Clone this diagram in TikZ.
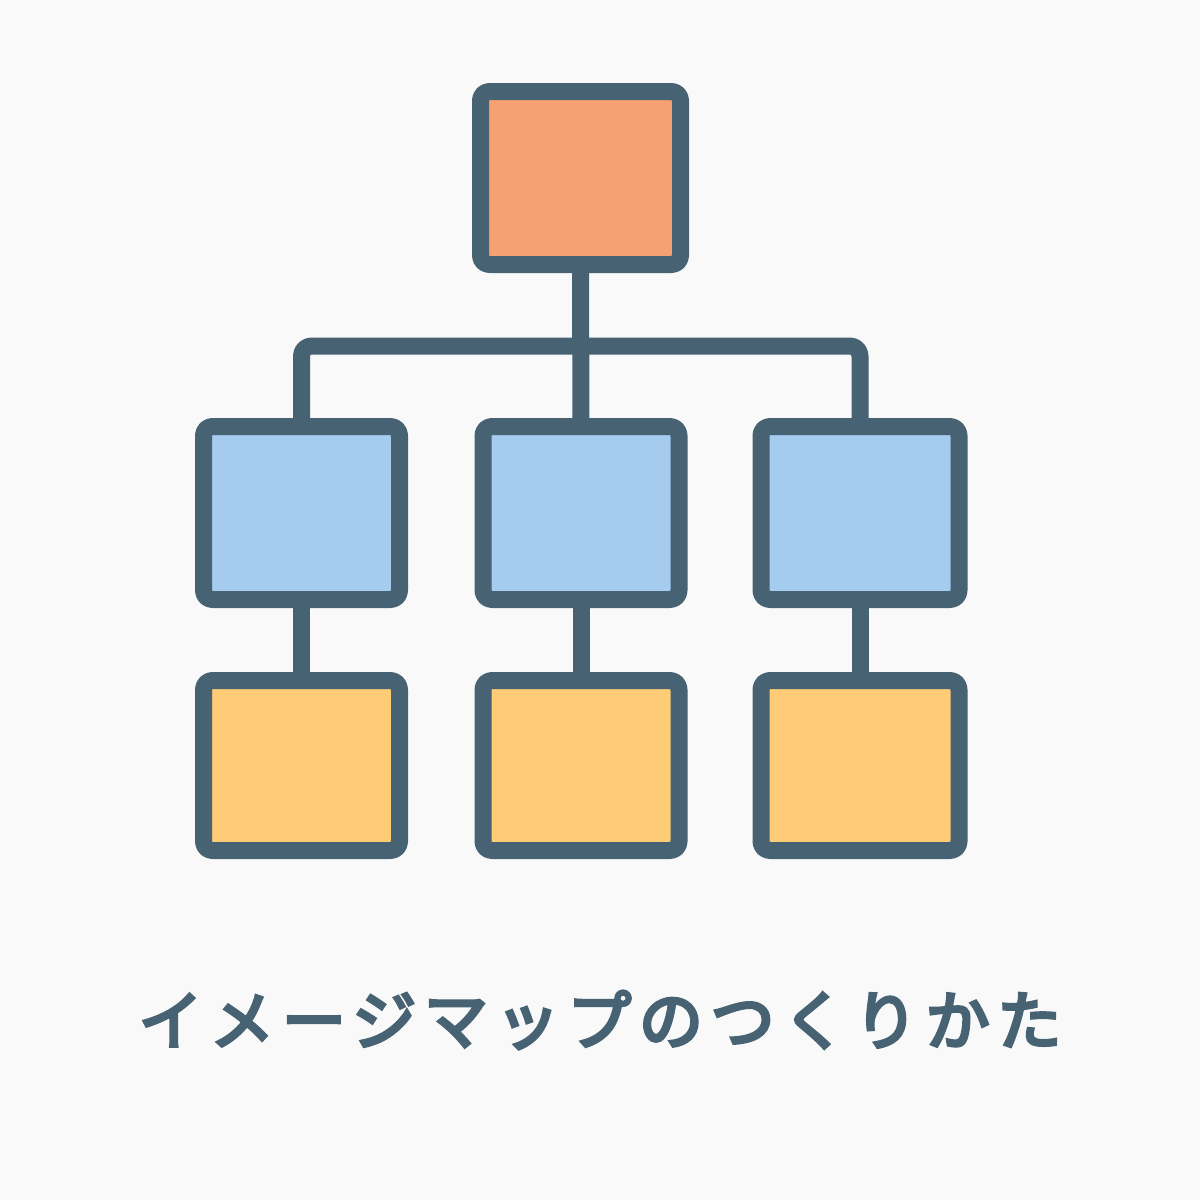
\documentclass[tikz,border=0pt]{standalone}
\usepackage{fontspec}
\newfontfamily\jpfont[LetterSpace=12, FakeBold=5]{Noto Sans CJK JP}
\definecolor{bgc}{HTML}{F9F9F9}
\definecolor{ink}{HTML}{466273}
\definecolor{orangef}{HTML}{F5A174}
\definecolor{bluef}{HTML}{A5CBEE}
\definecolor{yellowf}{HTML}{FECB77}
\tikzset{
  boxnode/.style={draw=ink, line width=8.5pt, rounded corners=4.5pt, outer sep=0pt, inner sep=0pt, line join=round},
  link/.style={draw=ink, line width=8.5pt, line join=round},
}
\begin{document}
\begin{tikzpicture}[x=0.5pt,y=-0.5pt]
\fill[bgc] (0,0) rectangle (1200,1200);
\useasboundingbox (0,0) rectangle (1200,1200);
% top
\node[boxnode, fill=orangef, minimum width=100pt, minimum height=86.5pt] (top) at (580.5,178) {};
% middle row
\node[boxnode, fill=bluef, minimum width=98pt, minimum height=86.5pt] (m1) at (301.5,513) {};
\node[boxnode, fill=bluef, minimum width=98pt, minimum height=86.5pt] (m2) at (581,513) {};
\node[boxnode, fill=bluef, minimum width=99pt, minimum height=86.5pt] (m3) at (860,513) {};
% bottom row
\node[boxnode, fill=yellowf, minimum width=98pt, minimum height=85pt] (b1) at (301.5,765.5) {};
\node[boxnode, fill=yellowf, minimum width=98pt, minimum height=85pt] (b2) at (581,765.5) {};
\node[boxnode, fill=yellowf, minimum width=99pt, minimum height=85pt] (b3) at (860,765.5) {};
% connectors
\coordinate (bus) at (580.5,346);
\draw[link] (top.south) -- (m2.north);
\draw[link, rounded corners=5pt] (m1.north) |- (bus) -| (m3.north);
\draw[link] (m1.south) -- (b1.north);
\draw[link] (m2.south) -- (b2.north);
\draw[link] (m3.south) -- (b3.north);
% title
\node[text=ink, font=\jpfont\fontsize{32}{32}\selectfont] (title) at (600,1020) {イメージマップのつくりかた};
\end{tikzpicture}
\end{document}
